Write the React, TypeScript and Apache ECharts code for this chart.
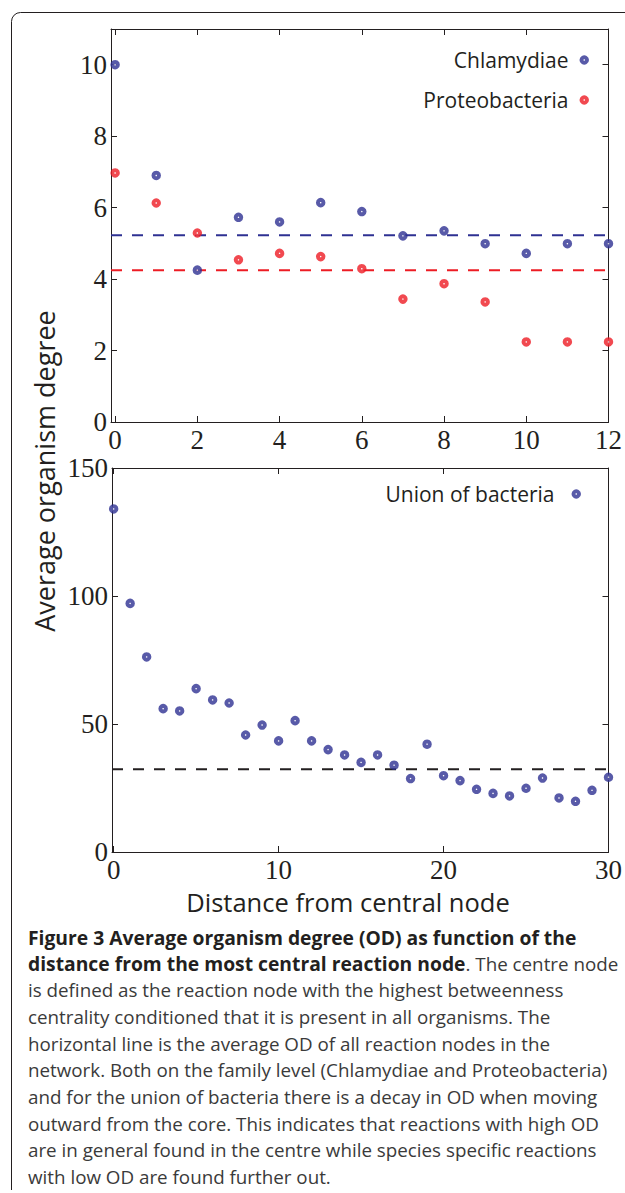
import React, { useEffect, useRef } from "react";
import * as echarts from "echarts";

// ---------- data ----------
const distanceFamily = [0, 1, 2, 3, 4, 5, 6, 7, 8, 9, 10, 11, 12];
const chlamydiae = [10.0, 6.9, 4.25, 5.73, 5.6, 6.14, 5.89, 5.21, 5.35, 4.99, 4.72, 4.99, 4.99];
const proteobacteria = [6.97, 6.13, 5.29, 4.54, 4.72, 4.63, 4.29, 3.44, 3.87, 3.36, 2.24, 2.24, 2.24];
const chlamydiaeMean = 5.23;
const proteobacteriaMean = 4.25;

const distanceUnion = [
  0, 1, 2, 3, 4, 5, 6, 7, 8, 9, 10, 11, 12, 13, 14, 15, 16, 17, 18, 19, 20, 21, 22, 23, 24, 25, 26, 27, 28, 29, 30,
];
const unionBacteria = [
  134.0, 97.1, 76.2, 56.0, 55.1, 63.8, 59.4, 58.2, 45.7, 49.6, 43.4, 51.3, 43.4, 40.0, 37.9, 35.0, 37.9, 33.9, 28.7,
  42.1, 29.8, 27.9, 24.5, 22.9, 21.9, 24.9, 28.9, 21.1, 19.8, 24.1, 29.2,
];
const unionMean = 32.3;

const topXTicks = [0, 2, 4, 6, 8, 10, 12];
const topYTicks = [0, 2, 4, 6, 8, 10];
const bottomXTicks = [0, 10, 20, 30];
const bottomYTicks = [0, 50, 100, 150];

const yTitle = "Average organism degree";
const xTitle = "Distance from central node";
const captionLines = [
  "{b|Figure 3 Average organism degree (OD) as function of the}",
  "{b|distance from the most central reaction node}{n|. The centre node}",
  "{n|is defined as the reaction node with the highest betweenness}",
  "{n|centrality conditioned that it is present in all organisms. The}",
  "{n|horizontal line is the average OD of all reaction nodes in the}",
  "{n|network. Both on the family level (Chlamydiae and Proteobacteria)}",
  "{n|and for the union of bacteria there is a decay in OD when moving}",
  "{n|outward from the core. This indicates that reactions with high OD}",
  "{n|are in general found in the centre while species specific reactions}",
  "{n|with low OD are found further out.}",
];

// ---------- styles ----------
const INK = "#231f20";
const BLUE = "#2e3192";
const RED = "#ed1c24";
const SERIF = "'Liberation Serif', 'Times New Roman', serif";
const SANS = "'Open Sans', 'Noto Sans', sans-serif";

function frameAxis(gridIndex: number, position: string, min: number, max: number, ticks: number[], labels: boolean) {
  return {
    type: "value",
    gridIndex,
    position,
    min,
    max,
    splitLine: { show: false },
    axisLine: { show: true, onZero: false, lineStyle: { color: INK, width: 1 } },
    axisTick: { show: true, inside: true, length: 6, customValues: ticks, lineStyle: { color: INK, width: 1 } },
    axisLabel: {
      show: labels,
      customValues: ticks,
      fontFamily: SERIF,
      fontSize: 27,
      color: INK,
      margin: 4,
    },
  };
}

function pairs(xs: number[], ys: number[]) {
  return xs.map((x, i) => [x, ys[i]]);
}

const ringStyle = (c: string) => ({ color: "#ffffff", borderColor: c, borderWidth: 4 });
const MARK = 5.5;

export default function App() {
  const ref = useRef<HTMLDivElement>(null);
  useEffect(() => {
    if (!ref.current) return;
    const chart = echarts.init(ref.current, undefined, { renderer: "svg", width: 625, height: 1193 });
    const topXMin = -0.1;
    const topXMax = 12;
    const botXMin = -0.1;
    const botXMax = 30;
    const option: any = {
      animation: false,
      backgroundColor: "#ffffff",
      grid: [
        { left: 111, top: 29, width: 500, height: 393 },
        { left: 112, top: 468, width: 497, height: 384 },
      ],
      xAxis: [
        frameAxis(0, "bottom", topXMin, topXMax, topXTicks, true),
        frameAxis(0, "top", topXMin, topXMax, topXTicks, false),
        frameAxis(1, "bottom", botXMin, botXMax, bottomXTicks, true),
        frameAxis(1, "top", botXMin, botXMax, bottomXTicks, false),
      ],
      yAxis: [
        frameAxis(0, "left", 0, 11, topYTicks, true),
        frameAxis(0, "right", 0, 11, topYTicks, false),
        frameAxis(1, "left", 0, 150, bottomYTicks, true),
        frameAxis(1, "right", 0, 150, bottomYTicks, false),
      ],
      legend: [
        {
          data: [
            { name: "Chlamydiae", itemStyle: ringStyle(BLUE) },
            { name: "Proteobacteria", itemStyle: ringStyle(RED) },
          ],
          orient: "vertical",
          align: "right",
          right: 36,
          top: 48,
          padding: 0,
          itemGap: 16,
          itemWidth: MARK,
          itemHeight: MARK,
          icon: "circle",
          selectedMode: false,
          textStyle: { fontFamily: SANS, fontSize: 21, color: INK, lineHeight: 24, padding: [0, 8, 0, 0] },
        },
        {
          data: [{ name: "Union of bacteria", itemStyle: ringStyle(BLUE) }],
          orient: "vertical",
          align: "right",
          right: 44,
          top: 482,
          padding: 0,
          itemWidth: MARK,
          itemHeight: MARK,
          icon: "circle",
          selectedMode: false,
          textStyle: { fontFamily: SANS, fontSize: 21, color: INK, lineHeight: 24, padding: [0, 14, 0, 0] },
        },
      ],
      series: [
        {
          name: "Chlamydiae mean",
          type: "line",
          xAxisIndex: 0,
          yAxisIndex: 0,
          data: [
            [topXMin, chlamydiaeMean],
            [topXMax, chlamydiaeMean],
          ],
          showSymbol: false,
          lineStyle: { color: BLUE, width: 2, type: [11, 10] },
          silent: true,
          z: 1,
        },
        {
          name: "Proteobacteria mean",
          type: "line",
          xAxisIndex: 0,
          yAxisIndex: 0,
          data: [
            [topXMin, proteobacteriaMean],
            [topXMax, proteobacteriaMean],
          ],
          showSymbol: false,
          lineStyle: { color: RED, width: 2, type: [11, 10] },
          silent: true,
          z: 1,
        },
        {
          name: "Chlamydiae",
          type: "scatter",
          xAxisIndex: 0,
          yAxisIndex: 0,
          data: pairs(distanceFamily, chlamydiae),
          symbol: "circle",
          symbolSize: MARK,
          itemStyle: ringStyle(BLUE),
          clip: false,
          z: 3,
        },
        {
          name: "Proteobacteria",
          type: "scatter",
          xAxisIndex: 0,
          yAxisIndex: 0,
          data: pairs(distanceFamily, proteobacteria),
          symbol: "circle",
          symbolSize: MARK,
          itemStyle: ringStyle(RED),
          clip: false,
          z: 3,
        },
        {
          name: "Union mean",
          type: "line",
          xAxisIndex: 2,
          yAxisIndex: 2,
          data: [
            [botXMin, unionMean],
            [botXMax, unionMean],
          ],
          showSymbol: false,
          lineStyle: { color: INK, width: 2, type: [11, 10] },
          silent: true,
          z: 1,
        },
        {
          name: "Union of bacteria",
          type: "scatter",
          xAxisIndex: 2,
          yAxisIndex: 2,
          data: pairs(distanceUnion, unionBacteria),
          symbol: "circle",
          symbolSize: MARK,
          itemStyle: ringStyle(BLUE),
          clip: false,
          z: 3,
        },
      ],
      graphic: [
        // page frame (rounded top-left corner)
        { type: "line", shape: { x1: 11.5, y1: 21.5, x2: 11.5, y2: 1190 }, style: { stroke: INK, lineWidth: 1 } },
        {
          type: "arc",
          shape: { cx: 20.5, cy: 21.5, r: 9, startAngle: Math.PI, endAngle: Math.PI * 1.5 },
          style: { stroke: INK, lineWidth: 1, fill: "none" },
        },
        { type: "line", shape: { x1: 20.5, y1: 12.5, x2: 625, y2: 12.5 }, style: { stroke: INK, lineWidth: 1 } },
        {
          type: "text",
          x: 44,
          y: 471,
          rotation: Math.PI / 2,
          style: {
            text: yTitle,
            fontFamily: SANS,
            fontSize: 27,
            fill: INK,
            textAlign: "center",
            textVerticalAlign: "middle",
          },
        },
        {
          type: "text",
          x: 348,
          y: 902,
          style: {
            text: xTitle,
            fontFamily: SANS,
            fontSize: 25.5,
            fill: INK,
            textAlign: "center",
            textVerticalAlign: "middle",
          },
        },
        ...captionLines.map((line, i) => ({
          type: "text",
          x: 28,
          y: 937 + i * 26.65,
          style: {
            text: line,
            textAlign: "left",
            textVerticalAlign: "middle",
            rich: {
              b: { fontFamily: SANS, fontSize: 19.3, fontWeight: "bold", fill: INK },
              n: { fontFamily: SANS, fontSize: 18.8, fill: "#3a3a3a" },
            },
          },
        })),
      ],
    };
    chart.setOption(option);
    return () => chart.dispose();
  }, []);
  return (
    <div
      ref={ref}
      style={{ position: "absolute", left: 0, top: 0, width: 625, height: 1193, background: "#ffffff" }}
    />
  );
}
